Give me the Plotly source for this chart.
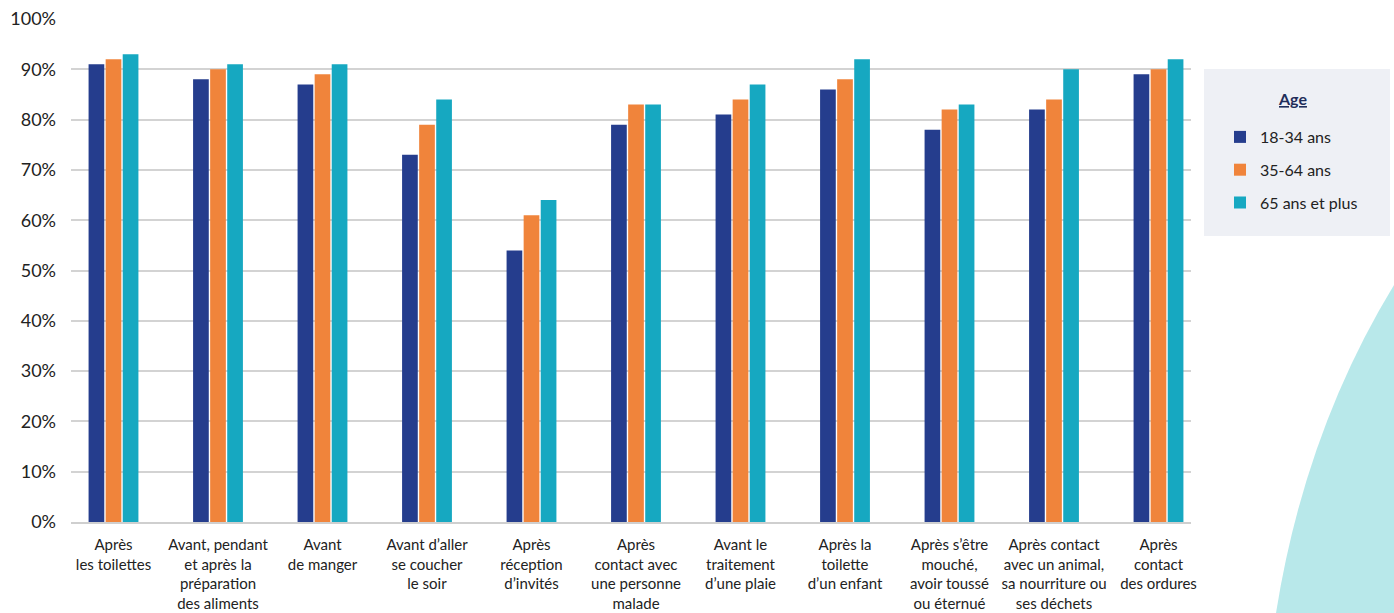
import plotly.graph_objects as go

categories = [
    "Après<br>les toilettes",
    "Avant, pendant<br>et après la<br>préparation<br>des aliments",
    "Avant<br>de manger",
    "Avant d’aller<br>se coucher<br>le soir",
    "Après<br>réception<br>d’invités",
    "Après<br>contact avec<br>une personne<br>malade",
    "Avant le<br>traitement<br>d’une plaie",
    "Après la<br>toilette<br>d’un enfant",
    "Après s’être<br>mouché,<br>avoir toussé<br>ou éternué",
    "Après contact<br>avec un animal,<br>sa nourriture ou<br>ses déchets",
    "Après<br>contact<br>des ordures",
]
series_names = ["18-34 ans", "35-64 ans", "65 ans et plus"]
age_18_34 = [91, 88, 87, 73, 54, 79, 81, 86, 78, 82, 89]
age_35_64 = [92, 90, 89, 79, 61, 83, 84, 88, 82, 84, 90]
age_65_plus = [93, 91, 91, 84, 64, 83, 87, 92, 83, 90, 92]
colors = ["#253d8d", "#f0843b", "#16a8c1"]
y_ticks = [0, 10, 20, 30, 40, 50, 60, 70, 80, 90, 100]
y_tick_labels = [f"{v}%" for v in y_ticks]
legend_title = "Age"

font_family = "Lato, 'Open Sans', sans-serif"

fig = go.Figure()
for i, (name, vals) in enumerate(zip(series_names, [age_18_34, age_35_64, age_65_plus])):
    fig.add_trace(go.Bar(
        x=categories, y=vals, name=name,
        marker=dict(color=colors[i], line=dict(width=0)),
        legendgroup=f"g{i}",
    ))

W, H = 1394, 613
l, r, t, b = 71, 203, 19, 91
pw, ph = W - l - r, H - t - b

def px(x):
    return (x - l) / pw

def py(y):
    return (H - b - y) / ph

shapes = [
    # decorative curve bottom-right
    dict(type="path", xref="paper", yref="paper", layer="below",
         path=f"M {px(1276)} {py(613)} Q {px(1305)} {py(431)} {px(1394)} {py(285)} L {px(1400)} {py(285)} L {px(1400)} {py(620)} Z",
         fillcolor="#b8e8ea", line=dict(width=0)),
    # legend background
    dict(type="rect", xref="paper", yref="paper", layer="below",
         x0=px(1204), x1=px(1390), y0=py(236), y1=py(69),
         fillcolor="#eef0f5", line=dict(width=0)),
]

annotations = [
    dict(text=f"<b><u>{legend_title}</u></b>", xref="paper", yref="paper",
         x=px(1292), y=py(98), xanchor="center", yanchor="middle",
         showarrow=False, font=dict(size=16, color="#1f2d5a", family=font_family)),
]

fig.update_layout(
    width=W, height=H,
    margin=dict(l=l, r=r, t=t, b=b, autoexpand=False),
    paper_bgcolor="white", plot_bgcolor="white",
    barmode="group", bargap=0.51, bargroupgap=0.08,
    font=dict(family=font_family, color="#222222"),
    showlegend=True,
    legend=dict(
        x=px(1220), y=py(120), xanchor="left", yanchor="top",
        bgcolor="rgba(0,0,0,0)",
        font=dict(size=16, color="#222222"),
        traceorder="grouped", tracegroupgap=9,
        itemwidth=30,
    ),
    shapes=shapes,
    annotations=annotations,
    xaxis=dict(
        range=[-0.4067, 10.311],
        showgrid=False, showline=True, linecolor="#cfcfcf", linewidth=2,
        tickfont=dict(size=15, color="#222222"), ticks="",
        tickangle=0, ticklabelstandoff=8,
    ),
    yaxis=dict(
        range=[0, 100], tickvals=y_ticks, ticktext=y_tick_labels,
        showgrid=True, gridcolor="#d3d3d3", gridwidth=1.5,
        zeroline=False, showline=False,
        tickfont=dict(size=18, color="#222222"), ticks="",
        ticklabelstandoff=14,
    ),
)

fig.write_html("out.html", config={"displayModeBar": False},
               post_script="document.body.style.margin='0';")
